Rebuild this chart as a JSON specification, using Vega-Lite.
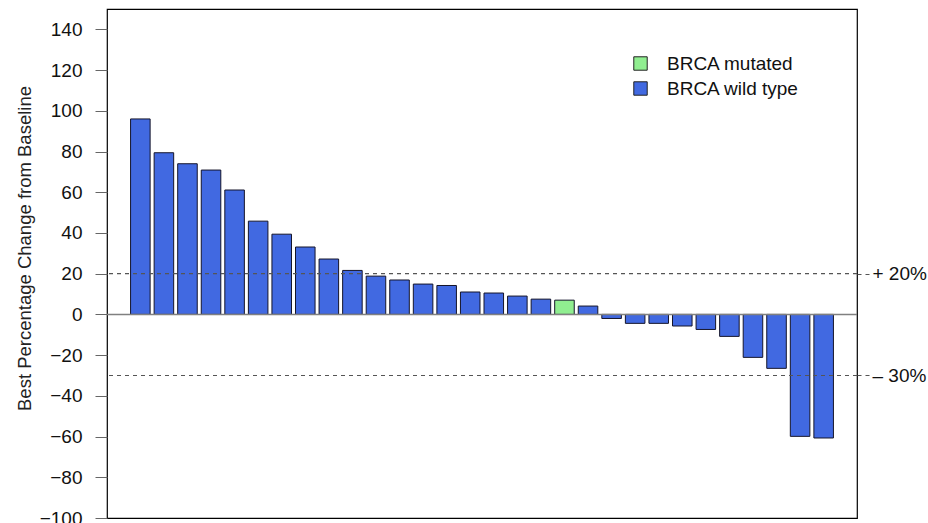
{
  "$schema": "https://vega.github.io/schema/vega-lite/v6.json",
  "width": 750,
  "height": 509,
  "autosize": {"type": "none"},
  "padding": {"left": 107, "top": 9, "right": 71, "bottom": 5},
  "background": "white",
  "config": {
    "font": "Liberation Sans",
    "view": {"stroke": "black", "strokeWidth": 1.2}
  },
  "datasets": {
    "bars": [
      {"patient": 1, "change": 96, "group": "BRCA wild type"},
      {"patient": 2, "change": 79.4, "group": "BRCA wild type"},
      {"patient": 3, "change": 74, "group": "BRCA wild type"},
      {"patient": 4, "change": 70.9, "group": "BRCA wild type"},
      {"patient": 5, "change": 61.1, "group": "BRCA wild type"},
      {"patient": 6, "change": 45.8, "group": "BRCA wild type"},
      {"patient": 7, "change": 39.4, "group": "BRCA wild type"},
      {"patient": 8, "change": 33.1, "group": "BRCA wild type"},
      {"patient": 9, "change": 27.2, "group": "BRCA wild type"},
      {"patient": 10, "change": 21.6, "group": "BRCA wild type"},
      {"patient": 11, "change": 18.8, "group": "BRCA wild type"},
      {"patient": 12, "change": 16.9, "group": "BRCA wild type"},
      {"patient": 13, "change": 14.9, "group": "BRCA wild type"},
      {"patient": 14, "change": 14.2, "group": "BRCA wild type"},
      {"patient": 15, "change": 11.0, "group": "BRCA wild type"},
      {"patient": 16, "change": 10.5, "group": "BRCA wild type"},
      {"patient": 17, "change": 9.0, "group": "BRCA wild type"},
      {"patient": 18, "change": 7.5, "group": "BRCA wild type"},
      {"patient": 19, "change": 7.0, "group": "BRCA mutated"},
      {"patient": 20, "change": 4.1, "group": "BRCA wild type"},
      {"patient": 21, "change": -2.0, "group": "BRCA wild type"},
      {"patient": 22, "change": -4.4, "group": "BRCA wild type"},
      {"patient": 23, "change": -4.4, "group": "BRCA wild type"},
      {"patient": 24, "change": -5.7, "group": "BRCA wild type"},
      {"patient": 25, "change": -7.4, "group": "BRCA wild type"},
      {"patient": 26, "change": -10.8, "group": "BRCA wild type"},
      {"patient": 27, "change": -21.1, "group": "BRCA wild type"},
      {"patient": 28, "change": -26.5, "group": "BRCA wild type"},
      {"patient": 29, "change": -59.9, "group": "BRCA wild type"},
      {"patient": 30, "change": -60.7, "group": "BRCA wild type"}
    ],
    "thresholds": [
      {"threshold": 20},
      {"threshold": -30}
    ]
  },
  "layer": [
    {
      "data": {"name": "bars"},
      "mark": {"type": "bar", "stroke": "#15152a", "strokeWidth": 1},
      "encoding": {
        "x": {
          "field": "patient",
          "type": "ordinal",
          "axis": null,
          "scale": {"paddingInner": 0.17, "paddingOuter": 1.2}
        },
        "y": {
          "field": "change",
          "type": "quantitative",
          "scale": {"domain": [-100, 150], "nice": false, "zero": false},
          "axis": {
            "orient": "left",
            "title": "Best Percentage Change from Baseline",
            "titleFont": "Liberation Sans",
            "titleFontSize": 18.5,
            "titleFontWeight": "normal",
            "titleColor": "#222",
            "titlePadding": 5,
            "titleY": 239,
            "values": [-100, -80, -60, -40, -20, 0, 20, 40, 60, 80, 100, 120, 140],
            "domain": false,
            "grid": false,
            "tickSize": 12,
            "tickColor": "#666",
            "tickWidth": 1,
            "labelFontSize": 19,
            "labelColor": "#111",
            "labelPadding": 13
          }
        },
        "color": {
          "field": "group",
          "type": "nominal",
          "scale": {
            "domain": ["BRCA mutated", "BRCA wild type"],
            "range": ["#90EE90", "#4169E1"]
          },
          "legend": {
            "title": null,
            "orient": "none",
            "legendX": 524,
            "legendY": 45,
            "symbolType": "square",
            "symbolSize": 180,
            "symbolStrokeColor": "#222",
            "symbolStrokeWidth": 1,
            "labelFontSize": 19,
            "labelColor": "#111",
            "labelOffset": 17,
            "rowPadding": 5,
            "padding": 0
          }
        }
      }
    },
    {
      "data": {"values": [{"base": 0}]},
      "mark": {"type": "rule", "color": "#808080", "strokeWidth": 1.5},
      "encoding": {
        "y": {
          "field": "base",
          "type": "quantitative",
          "scale": {"domain": [-100, 150], "nice": false, "zero": false},
          "axis": null
        }
      }
    },
    {
      "data": {"name": "thresholds"},
      "mark": {"type": "rule", "color": "#555", "strokeWidth": 1.2, "strokeDash": [4, 4]},
      "encoding": {
        "y": {
          "field": "threshold",
          "type": "quantitative",
          "scale": {"domain": [-100, 150], "nice": false, "zero": false},
          "axis": {
            "orient": "right",
            "title": null,
            "values": [20, -30],
            "labelExpr": "datum.value > 0 ? '+ 20%' : '\u2013 30%'",
            "domain": false,
            "grid": false,
            "tickSize": 13,
            "tickColor": "#555",
            "tickWidth": 1.2,
            "tickDash": [4, 4],
            "labelFontSize": 19,
            "labelColor": "#111",
            "labelPadding": 2
          }
        }
      }
    }
  ],
  "resolve": {"axis": {"y": "independent"}}
}
